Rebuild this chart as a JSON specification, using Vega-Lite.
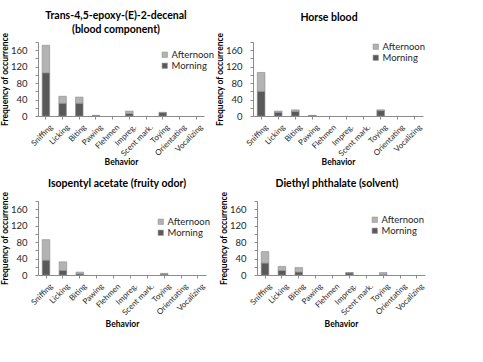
{
  "$schema": "https://vega.github.io/schema/vega-lite/v6.json",
  "padding": {"left": 0, "top": 10, "right": 0, "bottom": 0},
  "background": "white",
  "config": {
    "font": "Lato",
    "view": {"stroke": null},
    "axis": {"domainColor": "#8c8c8c", "tickColor": "#8c8c8c", "tickSize": 3, "labelColor": "#262626", "titleColor": "#000000", "titleFontWeight": "bold", "titleFontSize": 8.5, "labelFont": "Lato", "titleFont": "Lato", "grid": false},
    "title": {"font": "Lato", "fontSize": 10.5, "fontWeight": "bold", "color": "#000000", "lineHeight": 14},
    "legend": {"labelFont": "Lato", "labelFontSize": 9.5, "labelColor": "#262626", "symbolType": "square", "symbolSize": 28, "symbolStrokeWidth": 0.6, "rowPadding": 0, "labelOffset": 2, "padding": 0}
  },
  "data": {"values": [
    {"panel": "A", "behavior": "Sniffing", "period": "Morning", "value": 105},
    {"panel": "A", "behavior": "Sniffing", "period": "Afternoon", "value": 67},
    {"panel": "A", "behavior": "Licking", "period": "Morning", "value": 31},
    {"panel": "A", "behavior": "Licking", "period": "Afternoon", "value": 17},
    {"panel": "A", "behavior": "Biting", "period": "Morning", "value": 31},
    {"panel": "A", "behavior": "Biting", "period": "Afternoon", "value": 15},
    {"panel": "A", "behavior": "Pawing", "period": "Morning", "value": 1},
    {"panel": "A", "behavior": "Pawing", "period": "Afternoon", "value": 0.5},
    {"panel": "A", "behavior": "Flehmen", "period": "Morning", "value": 0},
    {"panel": "A", "behavior": "Flehmen", "period": "Afternoon", "value": 0},
    {"panel": "A", "behavior": "Impreg.", "period": "Morning", "value": 6},
    {"panel": "A", "behavior": "Impreg.", "period": "Afternoon", "value": 6},
    {"panel": "A", "behavior": "Scent mark.", "period": "Morning", "value": 0},
    {"panel": "A", "behavior": "Scent mark.", "period": "Afternoon", "value": 0},
    {"panel": "A", "behavior": "Toying", "period": "Morning", "value": 8},
    {"panel": "A", "behavior": "Toying", "period": "Afternoon", "value": 1},
    {"panel": "A", "behavior": "Orientating", "period": "Morning", "value": 0},
    {"panel": "A", "behavior": "Orientating", "period": "Afternoon", "value": 0},
    {"panel": "A", "behavior": "Vocalizing", "period": "Morning", "value": 0},
    {"panel": "A", "behavior": "Vocalizing", "period": "Afternoon", "value": 0},

    {"panel": "B", "behavior": "Sniffing", "period": "Morning", "value": 60},
    {"panel": "B", "behavior": "Sniffing", "period": "Afternoon", "value": 46},
    {"panel": "B", "behavior": "Licking", "period": "Morning", "value": 9},
    {"panel": "B", "behavior": "Licking", "period": "Afternoon", "value": 3},
    {"panel": "B", "behavior": "Biting", "period": "Morning", "value": 11},
    {"panel": "B", "behavior": "Biting", "period": "Afternoon", "value": 4},
    {"panel": "B", "behavior": "Pawing", "period": "Morning", "value": 1},
    {"panel": "B", "behavior": "Pawing", "period": "Afternoon", "value": 0.5},
    {"panel": "B", "behavior": "Flehmen", "period": "Morning", "value": 0},
    {"panel": "B", "behavior": "Flehmen", "period": "Afternoon", "value": 0},
    {"panel": "B", "behavior": "Impreg.", "period": "Morning", "value": 0},
    {"panel": "B", "behavior": "Impreg.", "period": "Afternoon", "value": 0},
    {"panel": "B", "behavior": "Scent mark.", "period": "Morning", "value": 0},
    {"panel": "B", "behavior": "Scent mark.", "period": "Afternoon", "value": 0},
    {"panel": "B", "behavior": "Toying", "period": "Morning", "value": 13},
    {"panel": "B", "behavior": "Toying", "period": "Afternoon", "value": 2},
    {"panel": "B", "behavior": "Orientating", "period": "Morning", "value": 0},
    {"panel": "B", "behavior": "Orientating", "period": "Afternoon", "value": 0},
    {"panel": "B", "behavior": "Vocalizing", "period": "Morning", "value": 0},
    {"panel": "B", "behavior": "Vocalizing", "period": "Afternoon", "value": 0},

    {"panel": "C", "behavior": "Sniffing", "period": "Morning", "value": 36},
    {"panel": "C", "behavior": "Sniffing", "period": "Afternoon", "value": 50},
    {"panel": "C", "behavior": "Licking", "period": "Morning", "value": 11},
    {"panel": "C", "behavior": "Licking", "period": "Afternoon", "value": 21},
    {"panel": "C", "behavior": "Biting", "period": "Morning", "value": 3},
    {"panel": "C", "behavior": "Biting", "period": "Afternoon", "value": 4},
    {"panel": "C", "behavior": "Pawing", "period": "Morning", "value": 0},
    {"panel": "C", "behavior": "Pawing", "period": "Afternoon", "value": 0},
    {"panel": "C", "behavior": "Flehmen", "period": "Morning", "value": 0},
    {"panel": "C", "behavior": "Flehmen", "period": "Afternoon", "value": 0},
    {"panel": "C", "behavior": "Impreg.", "period": "Morning", "value": 0},
    {"panel": "C", "behavior": "Impreg.", "period": "Afternoon", "value": 0},
    {"panel": "C", "behavior": "Scent mark.", "period": "Morning", "value": 0},
    {"panel": "C", "behavior": "Scent mark.", "period": "Afternoon", "value": 0},
    {"panel": "C", "behavior": "Toying", "period": "Morning", "value": 2},
    {"panel": "C", "behavior": "Toying", "period": "Afternoon", "value": 2},
    {"panel": "C", "behavior": "Orientating", "period": "Morning", "value": 0},
    {"panel": "C", "behavior": "Orientating", "period": "Afternoon", "value": 0},
    {"panel": "C", "behavior": "Vocalizing", "period": "Morning", "value": 0},
    {"panel": "C", "behavior": "Vocalizing", "period": "Afternoon", "value": 0},

    {"panel": "D", "behavior": "Sniffing", "period": "Morning", "value": 29},
    {"panel": "D", "behavior": "Sniffing", "period": "Afternoon", "value": 28},
    {"panel": "D", "behavior": "Licking", "period": "Morning", "value": 11},
    {"panel": "D", "behavior": "Licking", "period": "Afternoon", "value": 10},
    {"panel": "D", "behavior": "Biting", "period": "Morning", "value": 7},
    {"panel": "D", "behavior": "Biting", "period": "Afternoon", "value": 11},
    {"panel": "D", "behavior": "Pawing", "period": "Morning", "value": 0},
    {"panel": "D", "behavior": "Pawing", "period": "Afternoon", "value": 0},
    {"panel": "D", "behavior": "Flehmen", "period": "Morning", "value": 0},
    {"panel": "D", "behavior": "Flehmen", "period": "Afternoon", "value": 0},
    {"panel": "D", "behavior": "Impreg.", "period": "Morning", "value": 5},
    {"panel": "D", "behavior": "Impreg.", "period": "Afternoon", "value": 1},
    {"panel": "D", "behavior": "Scent mark.", "period": "Morning", "value": 0},
    {"panel": "D", "behavior": "Scent mark.", "period": "Afternoon", "value": 0},
    {"panel": "D", "behavior": "Toying", "period": "Morning", "value": 1},
    {"panel": "D", "behavior": "Toying", "period": "Afternoon", "value": 5},
    {"panel": "D", "behavior": "Orientating", "period": "Morning", "value": 0},
    {"panel": "D", "behavior": "Orientating", "period": "Afternoon", "value": 0},
    {"panel": "D", "behavior": "Vocalizing", "period": "Morning", "value": 0},
    {"panel": "D", "behavior": "Vocalizing", "period": "Afternoon", "value": 0}
  ]},
  "resolve": {"scale": {"color": "independent"}, "legend": {"color": "independent"}},
  "spacing": 11,
  "vconcat": [
    {
      "spacing": 0,
      "resolve": {"scale": {"color": "independent"}, "legend": {"color": "independent"}},
      "hconcat": [
        {
          "title": {"text": ["Trans-4,5-epoxy-(E)-2-decenal", "(blood component)"], "offset": -3, "dx": -5},
          "width": 166, "height": 74,
          "transform": [{"filter": "datum.panel == 'A' && datum.value > 0"}],
          "mark": {"type": "bar", "stroke": "#8c8c8c", "strokeWidth": 0.6},
          "encoding": {
            "x": {"field": "behavior", "type": "nominal", "title": "Behavior",
                  "scale": {"domain": ["Sniffing", "Licking", "Biting", "Pawing", "Flehmen", "Impreg.", "Scent mark.", "Toying", "Orientating", "Vocalizing"], "paddingInner": 0.55, "paddingOuter": 0.25},
                  "axis": {"labelAngle": -45, "labelFontSize": 8, "labelOffset": 3, "labelPadding": 4, "titlePadding": 0}},
            "y": {"field": "value", "type": "quantitative", "stack": "zero", "title": "Frequency of occurrence",
                  "scale": {"domain": [0, 180], "nice": false},
                  "axis": {"values": [0, 20, 40, 60, 80, 100, 120, 140, 160, 180], "labelExpr": "datum.value % 40 == 0 && datum.value < 180 ? datum.label : ''", "labelFontSize": 9.5, "labelPadding": 8, "titlePadding": 1}},
            "color": {"field": "period", "type": "nominal", "title": null,
                      "scale": {"domain": ["Afternoon", "Morning"], "range": ["#b3b3b3", "#595959"]},
                      "legend": {"orient": "none", "legendX": 122, "legendY": 8}},
            "order": {"field": "period", "sort": "descending"}
          }
        },
        {
          "title": {"text": "Horse blood", "offset": 9, "dx": -9},
          "width": 170, "height": 74,
          "transform": [{"filter": "datum.panel == 'B' && datum.value > 0"}],
          "mark": {"type": "bar", "stroke": "#8c8c8c", "strokeWidth": 0.6},
          "encoding": {
            "x": {"field": "behavior", "type": "nominal", "title": "Behavior",
                  "scale": {"domain": ["Sniffing", "Licking", "Biting", "Pawing", "Flehmen", "Impreg.", "Scent mark.", "Toying", "Orientating", "Vocalizing"], "paddingInner": 0.55, "paddingOuter": 0.25},
                  "axis": {"labelAngle": -45, "labelFontSize": 8, "labelOffset": 3, "labelPadding": 4, "titlePadding": 0}},
            "y": {"field": "value", "type": "quantitative", "stack": "zero", "title": "Frequency of occurrence",
                  "scale": {"domain": [0, 180], "nice": false},
                  "axis": {"values": [0, 20, 40, 60, 80, 100, 120, 140, 160, 180], "labelExpr": "datum.value % 40 == 0 && datum.value < 180 ? datum.label : ''", "labelFontSize": 9.5, "labelPadding": 8, "titlePadding": 1}},
            "color": {"field": "period", "type": "nominal", "title": null,
                      "scale": {"domain": ["Afternoon", "Morning"], "range": ["#b3b3b3", "#595959"]},
                      "legend": {"orient": "none", "legendX": 118, "legendY": 0}},
            "order": {"field": "period", "sort": "descending"}
          }
        }
      ]
    },
    {
      "spacing": 8,
      "resolve": {"scale": {"color": "independent"}, "legend": {"color": "independent"}},
      "hconcat": [
        {
          "title": {"text": "Isopentyl acetate (fruity odor)", "offset": 2, "dx": -5},
          "width": 168, "height": 74,
          "transform": [{"filter": "datum.panel == 'C' && datum.value > 0"}],
          "mark": {"type": "bar", "stroke": "#8c8c8c", "strokeWidth": 0.6},
          "encoding": {
            "x": {"field": "behavior", "type": "nominal", "title": "Behavior",
                  "scale": {"domain": ["Sniffing", "Licking", "Biting", "Pawing", "Flehmen", "Impreg.", "Scent mark.", "Toying", "Orientating", "Vocalizing"], "paddingInner": 0.55, "paddingOuter": 0.25},
                  "axis": {"labelAngle": -45, "labelFontSize": 8, "labelOffset": 3, "labelPadding": 4, "titlePadding": 3}},
            "y": {"field": "value", "type": "quantitative", "stack": "zero", "title": "Frequency of occurrence",
                  "scale": {"domain": [0, 180], "nice": false},
                  "axis": {"values": [0, 20, 40, 60, 80, 100, 120, 140, 160, 180], "labelExpr": "datum.value % 40 == 0 && datum.value < 180 ? datum.label : ''", "labelFontSize": 9.5, "labelPadding": 8, "titlePadding": 1}},
            "color": {"field": "period", "type": "nominal", "title": null,
                      "scale": {"domain": ["Afternoon", "Morning"], "range": ["#b3b3b3", "#595959"]},
                      "legend": {"orient": "none", "legendX": 118, "legendY": 16}},
            "order": {"field": "period", "sort": "descending"}
          }
        },
        {
          "title": {"text": "Diethyl phthalate (solvent)", "offset": 2, "dx": -4},
          "width": 168, "height": 74,
          "transform": [{"filter": "datum.panel == 'D' && datum.value > 0"}],
          "mark": {"type": "bar", "stroke": "#8c8c8c", "strokeWidth": 0.6},
          "encoding": {
            "x": {"field": "behavior", "type": "nominal", "title": "Behavior",
                  "scale": {"domain": ["Sniffing", "Licking", "Biting", "Pawing", "Flehmen", "Impreg.", "Scent mark.", "Toying", "Orientating", "Vocalizing"], "paddingInner": 0.55, "paddingOuter": 0.25},
                  "axis": {"labelAngle": -45, "labelFontSize": 8, "labelOffset": 3, "labelPadding": 4, "titlePadding": 3}},
            "y": {"field": "value", "type": "quantitative", "stack": "zero", "title": "Frequency of occurrence",
                  "scale": {"domain": [0, 180], "nice": false},
                  "axis": {"values": [0, 20, 40, 60, 80, 100, 120, 140, 160, 180], "labelExpr": "datum.value % 40 == 0 && datum.value < 180 ? datum.label : ''", "labelFontSize": 9.5, "labelPadding": 8, "titlePadding": 1}},
            "color": {"field": "period", "type": "nominal", "title": null,
                      "scale": {"domain": ["Afternoon", "Morning"], "range": ["#b3b3b3", "#595959"]},
                      "legend": {"orient": "none", "legendX": 113, "legendY": 14}},
            "order": {"field": "period", "sort": "descending"}
          }
        }
      ]
    }
  ]
}
